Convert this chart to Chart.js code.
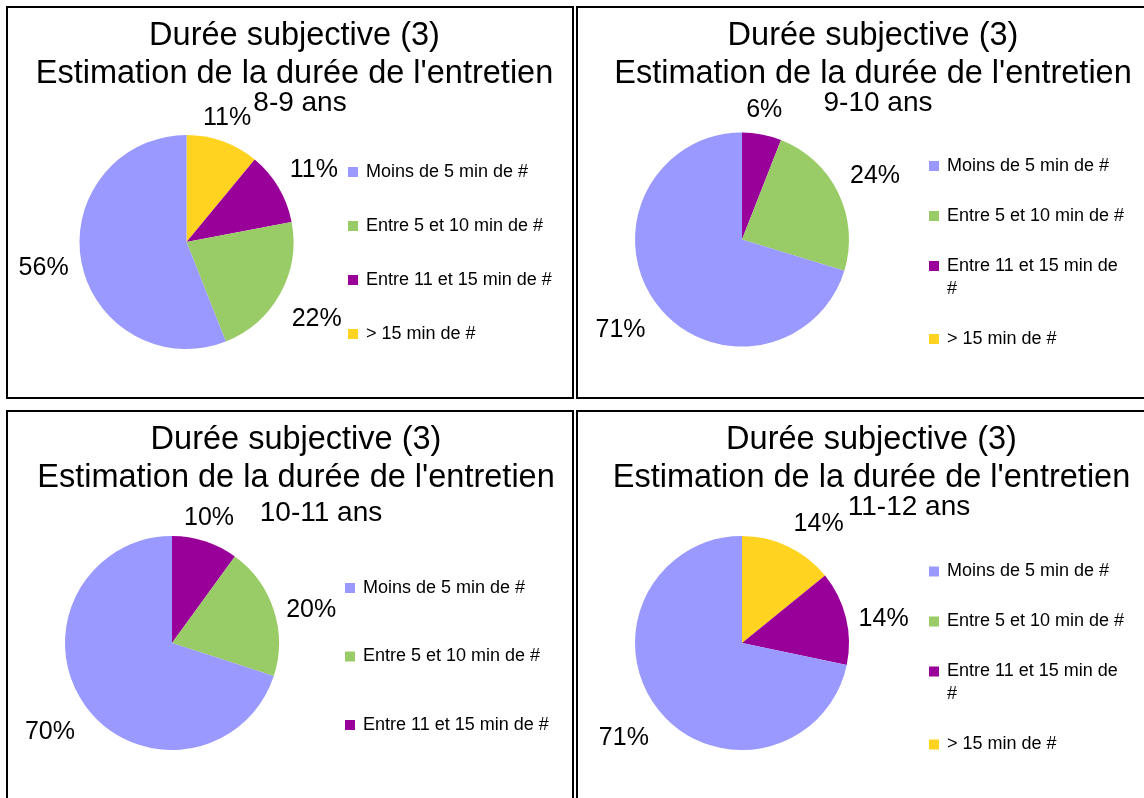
<!DOCTYPE html>
<html lang="fr">
<head>
<meta charset="utf-8">
<title>Durée subjective (3)</title>
<script src="https://cdn.jsdelivr.net/npm/chart.js@4.4.1/dist/chart.umd.min.js"></script>
<style>
  html, body { margin: 0; padding: 0; background: #fff; }
  body { width: 1144px; height: 798px; overflow: hidden; position: relative; }
  .panel { position: absolute; box-sizing: border-box; border: 2px solid #000; background: #fff; }
  .panel canvas { display: block; }
</style>
</head>
<body>
<div class="panel" style="left:6px;top:6px;width:568px;height:393px"><canvas id="c1" width="564" height="389"></canvas></div>
<div class="panel" style="left:576px;top:6px;width:586px;height:393px"><canvas id="c2" width="582" height="389"></canvas></div>
<div class="panel" style="left:6px;top:410px;width:568px;height:393px"><canvas id="c3" width="564" height="389"></canvas></div>
<div class="panel" style="left:576px;top:410px;width:586px;height:393px"><canvas id="c4" width="582" height="389"></canvas></div>
<script>
const categories = ['Moins de 5 min de #', 'Entre 5 et 10 min de #', 'Entre 11 et 15 min de #', '> 15 min de #'];
const sliceColors = ['#9999ff', '#99cc66', '#990099', '#ffd320'];
const titleLines = ['Durée subjective (3)', "Estimation de la durée de l'entretien"];
const ageGroups = ['8-9 ans', '9-10 ans', '10-11 ans', '11-12 ans'];

// percentages per age group, in legend order
const pct8to9 = [56, 22, 11, 11];
const pct9to10 = [71, 24, 6, 0];
const pct10to11 = [70, 20, 10];
const pct11to12 = [71, 0, 14, 14];

const FONT = '"Liberation Sans", Arial, sans-serif';
Chart.defaults.font.family = FONT;
Chart.defaults.color = '#000';

// layout only (px inside each panel)
const panels = [
  { id: 'c1', values: pct8to9, age: ageGroups[0], padL: 9, padB: 6, side: 216, ageX: 292, ageY: 103, legX: 340, legY: 164, legGap: 31, legMax: 230 },
  { id: 'c2', values: pct9to10, age: ageGroups[1], padL: 8, padB: 11, side: 262, ageX: 300, ageY: 103, legX: 351, legY: 158, legGap: 27, legMax: 182 },
  { id: 'c3', values: pct10to11, age: ageGroups[2], padL: 12, padB: 12, side: 248, ageX: 313, ageY: 109, legX: 337, legY: 176, legGap: 45.5, legMax: 230 },
  { id: 'c4', values: pct11to12, age: ageGroups[3], padL: 5, padB: 12, side: 259, ageX: 331, ageY: 103, legX: 351, legY: 159.5, legGap: 27, legMax: 182 }
];

function wrapText(ctx, text, maxWidth) {
  const words = text.split(' ');
  const lines = [];
  let line = '';
  words.forEach(w => {
    const test = line ? line + ' ' + w : w;
    if (line && ctx.measureText(test).width > maxWidth) { lines.push(line); line = w; }
    else line = test;
  });
  if (line) lines.push(line);
  return lines;
}

// legend on the right, reserved as a layout box so the pie sits left of it
const sideLegend = {
  id: 'sideLegend',
  beforeInit(chart, args, opts) {
    const box = {
      position: 'right', weight: 500, fullSize: false,
      options: { display: true },
      left: 0, top: 0, right: 0, bottom: 0, width: 0, height: 0,
      isHorizontal() { return false; },
      update(maxWidth, maxHeight) { this.width = opts.width; this.height = maxHeight; },
      draw() {
        const ctx = chart.ctx;
        ctx.save();
        ctx.font = '18px ' + FONT;
        ctx.textBaseline = 'middle';
        ctx.textAlign = 'left';
        let y = opts.y;
        opts.labels.forEach((label, i) => {
          const lines = wrapText(ctx, label, opts.maxWidth);
          ctx.fillStyle = opts.colors[i];
          ctx.fillRect(opts.x, y - 5, 10, 10);
          ctx.fillStyle = '#000';
          lines.forEach((ln, k) => ctx.fillText(ln, opts.x + 18, y + k * 23));
          y += lines.length * 23 + opts.gap;
        });
        ctx.restore();
      }
    };
    Chart.layouts.addBox(chart, box);
  }
};

// percentage labels outside the slices
const pctLabels = {
  id: 'pctLabels',
  afterDatasetsDraw(chart) {
    const ctx = chart.ctx;
    const values = chart.data.datasets[0].data;
    ctx.save();
    ctx.font = '25px ' + FONT;
    ctx.fillStyle = '#000';
    ctx.textAlign = 'center';
    ctx.textBaseline = 'middle';
    chart.getDatasetMeta(0).data.forEach((arc, i) => {
      if (!values[i]) return;
      const p = arc.getProps(['x', 'y', 'startAngle', 'endAngle', 'outerRadius'], true);
      const mid = (p.startAngle + p.endAngle) / 2;
      const dx = Math.cos(mid), dy = Math.sin(mid);
      const text = values[i] + '%';
      const w = ctx.measureText(text).width;
      const px = p.x + dx * (p.outerRadius + 13);
      const py = p.y + dy * (p.outerRadius + 13);
      const sx = Math.abs(dx) < 0.4 ? 0 : Math.sign(dx);
      const sy = Math.abs(dy) < 0.4 ? 0 : Math.sign(dy);
      ctx.fillText(text, px + sx * w / 2, py + sy * 15 + 4);
    });
    ctx.restore();
  }
};

// age group line under the title
const ageLabel = {
  id: 'ageLabel',
  afterDraw(chart, args, opts) {
    const ctx = chart.ctx;
    ctx.save();
    ctx.font = '28px ' + FONT;
    ctx.fillStyle = '#000';
    ctx.textAlign = 'center';
    ctx.textBaseline = 'alphabetic';
    ctx.fillText(opts.text, opts.x, opts.y);
    ctx.restore();
  }
};

panels.forEach(p => {
  const cats = categories.slice(0, p.values.length);
  const cols = sliceColors.slice(0, p.values.length);
  new Chart(document.getElementById(p.id), {
    type: 'pie',
    data: {
      // drawn clockwise from the top in reverse order, like the original
      labels: cats.slice().reverse(),
      datasets: [{
        data: p.values.slice().reverse(),
        backgroundColor: cols.slice().reverse(),
        borderWidth: 0,
        radius: 107
      }]
    },
    options: {
      responsive: false,
      animation: false,
      layout: { padding: { left: p.padL, right: 0, top: 0, bottom: p.padB } },
      plugins: {
        legend: { display: false },
        tooltip: { enabled: false },
        title: {
          display: true,
          text: titleLines,
          color: '#000',
          font: { size: 32.5, weight: 'normal', lineHeight: 1.17 },
          padding: { top: 9, bottom: 0 }
        },
        sideLegend: { width: p.side, labels: cats, colors: cols, x: p.legX, y: p.legY, gap: p.legGap, maxWidth: p.legMax },
        ageLabel: { text: p.age, x: p.ageX, y: p.ageY }
      }
    },
    plugins: [sideLegend, pctLabels, ageLabel]
  });
});
</script>
</body>
</html>
